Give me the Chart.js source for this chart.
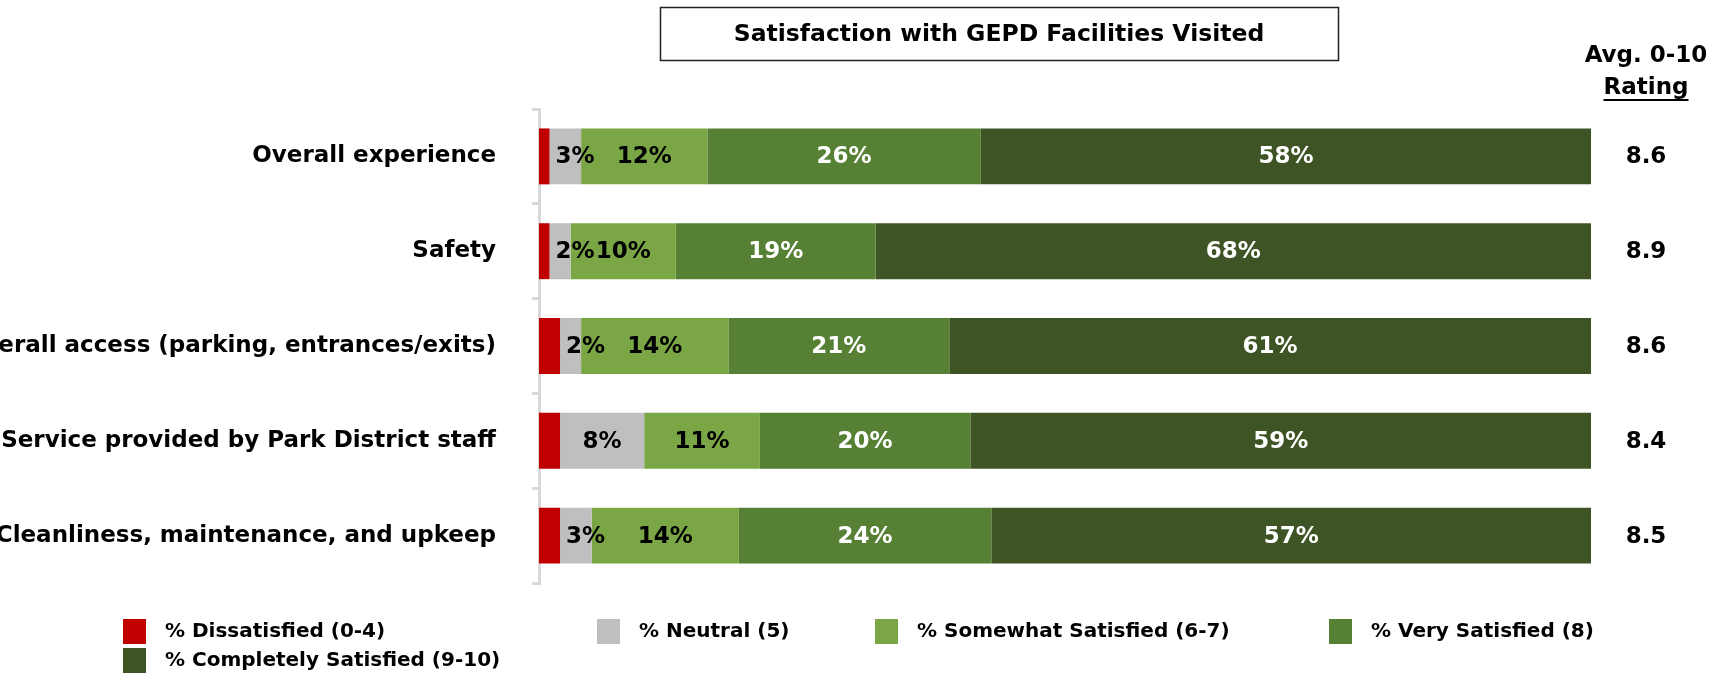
<!DOCTYPE html>
<html>
<head>
<meta charset="utf-8">
<script src="https://cdn.jsdelivr.net/npm/chart.js@4/dist/chart.umd.min.js"></script>
<style>
  html, body { margin: 0; padding: 0; background: #fff; }
</style>
</head>
<body>
<canvas id="satChart" width="1723" height="675"></canvas>
<script>
// =========================
//  DATA
// =========================
const categories = [
    "Overall experience",
    "Safety",
    "Overall access (parking, entrances/exits)",
    "Service provided by Park District staff",
    "Cleanliness, maintenance, and upkeep"
];
const seriesNames = [
    "% Dissatisfied (0-4)",
    "% Neutral (5)",
    "% Somewhat Satisfied (6-7)",
    "% Very Satisfied (8)",
    "% Completely Satisfied (9-10)"
];
const dissatisfied = [1, 1, 2, 2, 2];
const neutral = [3, 2, 2, 8, 3];
const somewhat = [12, 10, 14, 11, 14];
const verySatisfied = [26, 19, 21, 20, 24];
const completely = [58, 68, 61, 59, 57];
const avgRatings = ["8.6", "8.9", "8.6", "8.4", "8.5"];

const chartTitle = "Satisfaction with GEPD Facilities Visited";
const ratingHeader = ["Avg. 0-10", "Rating"];

const seriesColors = ["#C00000", "#BFBFBF", "#7AA645", "#568034", "#3E5424"];
const labelColors = ["#000", "#000", "#000", "#fff", "#fff"];
const FONT = '"DejaVu Sans", Verdana, sans-serif';

// =========================
//  PLUGINS
// =========================
const segmentLabels = {
    id: "segmentLabels",
    afterDatasetsDraw(chart) {
        const ctx = chart.ctx;
        ctx.save();
        ctx.font = "bold 23px " + FONT;
        ctx.textAlign = "center";
        ctx.textBaseline = "middle";
        chart.data.datasets.forEach((ds, di) => {
            if (di === 0) return; // dissatisfied too thin to label
            chart.getDatasetMeta(di).data.forEach((bar, i) => {
                const txt = ds.data[i] + "%";
                const w = ctx.measureText(txt).width;
                // narrow segments: label starts just inside the segment
                const x = Math.max((bar.base + bar.x) / 2, bar.base + 6 + w / 2);
                ctx.fillStyle = labelColors[di];
                ctx.fillText(txt, x, bar.y + 1);
            });
        });
        ctx.restore();
    }
};

const extras = {
    id: "extras",
    afterDraw(chart) {
        const ctx = chart.ctx;
        const yScale = chart.scales.y;
        ctx.save();

        // title box
        ctx.strokeStyle = "#222";
        ctx.lineWidth = 1.5;
        ctx.strokeRect(660.5, 7.5, 678, 53);
        ctx.fillStyle = "#000";
        ctx.font = "bold 23.5px " + FONT;
        ctx.textAlign = "center";
        ctx.textBaseline = "middle";
        ctx.fillText(chartTitle, 999, 35);

        // rating header
        const rx = 1646;
        ctx.font = "bold 23px " + FONT;
        ctx.fillText(ratingHeader[0], rx, 56);
        ctx.fillText(ratingHeader[1], rx, 88);
        const w = ctx.measureText(ratingHeader[1]).width;
        ctx.fillRect(rx - w / 2, 99, w, 2);

        // ratings
        avgRatings.forEach((r, i) => {
            ctx.fillText(r, rx, yScale.getPixelForValue(i) + 1);
        });

        // legend
        const cols = [123, 597, 875, 1329];
        ctx.font = "bold 20px " + FONT;
        ctx.textAlign = "left";
        seriesNames.forEach((name, i) => {
            const x = i < 4 ? cols[i] : cols[0];
            const y = i < 4 ? 631 : 660;
            ctx.fillStyle = seriesColors[i];
            ctx.fillRect(x, y - 12, 23, 25);
            ctx.fillStyle = "#000";
            ctx.fillText(name, x + 42, y + 1);
        });
        ctx.restore();
    }
};

// =========================
//  CHART
// =========================
const seriesData = [dissatisfied, neutral, somewhat, verySatisfied, completely];

new Chart(document.getElementById("satChart"), {
    type: "bar",
    data: {
        labels: categories,
        datasets: seriesNames.map((name, i) => ({
            label: name,
            data: seriesData[i],
            backgroundColor: seriesColors[i],
            borderWidth: 0,
            barPercentage: 0.59,
            categoryPercentage: 1.0
        }))
    },
    options: {
        indexAxis: "y",
        responsive: false,
        animation: false,
        devicePixelRatio: 1,
        layout: { padding: { left: 0, right: 132, top: 109, bottom: 92 } },
        plugins: {
            legend: { display: false },
            title: { display: false },
            tooltip: { enabled: false }
        },
        scales: {
            x: { stacked: true, min: 0, max: 100, display: false },
            y: {
                stacked: true,
                border: { color: "#D9D9D9", width: 3 },
                grid: { offset: true, drawOnChartArea: false, tickLength: 7, color: "#D9D9D9", lineWidth: 3 },
                ticks: { color: "#000", padding: 36, font: { family: FONT, size: 23, weight: "bold" } },
                afterFit(scale) { scale.width = 539; }
            }
        }
    },
    plugins: [segmentLabels, extras]
});
</script>
</body>
</html>
